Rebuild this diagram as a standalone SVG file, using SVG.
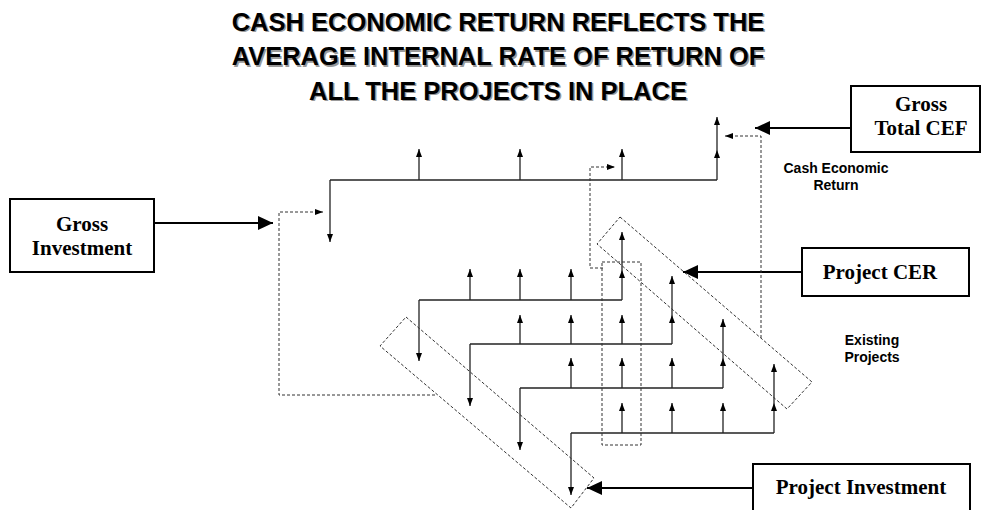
<svg xmlns="http://www.w3.org/2000/svg" width="982" height="510" viewBox="0 0 982 510">
<style>
.title{font-family:"Liberation Sans",Arial,sans-serif;font-weight:bold;font-size:25.5px;text-anchor:middle}
.shadow{fill:#9a9a9a}
.box{fill:#fff;stroke:#000;stroke-width:2}
.btxt{font-family:"Liberation Serif","Times New Roman",serif;font-weight:bold;font-size:21px;text-anchor:middle;fill:#000}
.lbl{font-family:"Liberation Sans",Arial,sans-serif;font-weight:bold;font-size:14px;text-anchor:middle;fill:#000}
.cf{stroke:#222;stroke-width:1.3;fill:none}
.cfa{stroke:#222;stroke-width:1.3;fill:none;marker-end:url(#sa)}
.dash{stroke:#333;stroke-width:1;fill:none;stroke-dasharray:3,2}
.dasha{stroke:#333;stroke-width:1;fill:none;stroke-dasharray:3,2;marker-end:url(#sa)}
.conn{stroke:#000;stroke-width:2;fill:none;marker-end:url(#ba)}
</style>
<defs>
<marker id="sa" markerUnits="userSpaceOnUse" markerWidth="9" markerHeight="7" refX="8" refY="3" orient="auto">
<path d="M0,0 L8,3 L0,6 z" fill="#000"/>
</marker>
<marker id="ba" markerUnits="userSpaceOnUse" markerWidth="16" markerHeight="16" refX="15" refY="7" orient="auto">
<path d="M0,0 L15,7 L0,14 z" fill="#000"/>
</marker>
</defs>
<rect width="982" height="510" fill="#fff"/>

<g id="title">
<g class="title shadow" transform="translate(1.5,1.5)">
<text x="498" y="30.5">CASH ECONOMIC RETURN REFLECTS THE</text>
<text x="498" y="65">AVERAGE INTERNAL RATE OF RETURN OF</text>
<text x="498" y="99.5">ALL THE PROJECTS IN PLACE</text>
</g>
<g class="title">
<text x="498" y="30.5">CASH ECONOMIC RETURN REFLECTS THE</text>
<text x="498" y="65">AVERAGE INTERNAL RATE OF RETURN OF</text>
<text x="498" y="99.5">ALL THE PROJECTS IN PLACE</text>
</g>
</g>

<g id="cash-flows">
<!-- row 1 -->
<path class="cf" d="M717,180 H330"/>
<path class="cfa" d="M330,180 V242"/>
<path class="cfa" d="M419,180 V149"/>
<path class="cfa" d="M520,180 V149"/>
<path class="cfa" d="M622,180 V149"/>
<path class="cfa" d="M717,180 V150"/>
<path class="cfa" d="M717,150 V117"/>
<!-- row 2 -->
<path class="cf" d="M622,300 H419"/>
<path class="cfa" d="M419,300 V361"/>
<path class="cfa" d="M470,300 V269"/>
<path class="cfa" d="M520,300 V269"/>
<path class="cfa" d="M571,300 V269"/>
<path class="cfa" d="M622,300 V270"/>
<path class="cfa" d="M622,270 V232"/>
<!-- row 3 -->
<path class="cf" d="M672,344 H470"/>
<path class="cfa" d="M470,344 V406"/>
<path class="cfa" d="M520,344 V315"/>
<path class="cfa" d="M571,344 V315"/>
<path class="cfa" d="M622,344 V315"/>
<path class="cfa" d="M672,344 V315"/>
<path class="cfa" d="M672,315 V276"/>
<!-- row 4 -->
<path class="cf" d="M723,388 H520"/>
<path class="cfa" d="M520,388 V450"/>
<path class="cfa" d="M571,388 V358"/>
<path class="cfa" d="M622,388 V358"/>
<path class="cfa" d="M672,388 V358"/>
<path class="cfa" d="M723,388 V358"/>
<path class="cfa" d="M723,358 V319"/>
<!-- row 5 -->
<path class="cf" d="M774,433 H571"/>
<path class="cfa" d="M571,433 V495"/>
<path class="cfa" d="M622,433 V403"/>
<path class="cfa" d="M672,433 V403"/>
<path class="cfa" d="M723,433 V403"/>
<path class="cfa" d="M774,433 V403"/>
<path class="cfa" d="M774,403 V364"/>
</g>

<g id="outlines">
<polygon class="dash" points="620,217 812,382 787,409 597,244"/>
<polygon class="dash" points="406,317 594,478 571,508 380,346"/>
<rect class="dash" x="602" y="262" width="39" height="183"/>
</g>

<g id="gross-investment">
<rect class="box" x="10" y="199" width="144" height="73"/>
<text class="btxt" x="82" y="231">Gross</text>
<text class="btxt" x="82" y="255">Investment</text>
</g>

<g id="gross-total-cef">
<rect class="box" x="851" y="86" width="129" height="66"/>
<text class="btxt" x="921" y="111">Gross</text>
<text class="btxt" x="921" y="135">Total CEF</text>
</g>

<g id="project-cer">
<rect class="box" x="802" y="248" width="167" height="48"/>
<text class="btxt" x="880" y="279">Project CER</text>
</g>

<g id="project-investment">
<rect class="box" x="753" y="464" width="217" height="50"/>
<text class="btxt" x="861" y="494">Project Investment</text>
</g>

<g id="labels">
<text class="lbl" x="836" y="173">Cash Economic</text>
<text class="lbl" x="836" y="190">Return</text>
<text class="lbl" x="872" y="345">Existing</text>
<text class="lbl" x="872" y="362">Projects</text>
</g>

<g id="connectors">
<path class="conn" d="M154,223 H273"/>
<path class="conn" d="M851,128 H755"/>
<path class="conn" d="M802,272 H683"/>
<path class="conn" d="M753,488 H587"/>
<path class="dasha" d="M435,395 H279 V212 H323"/>
<path class="dasha" d="M761,338 V136 H725"/>
<path class="dasha" d="M603,268 H590 V167 H615"/>
</g>
</svg>
